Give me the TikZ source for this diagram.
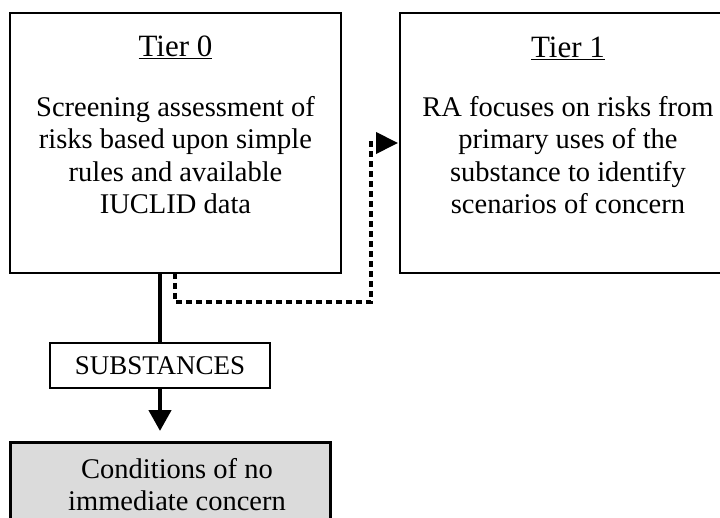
\documentclass[tikz,border=0pt]{standalone}
\usepackage{fontspec}
\setmainfont{Liberation Serif}
\usetikzlibrary{arrows.meta,calc}
\tikzset{
  tierbox/.style={draw, line width=2pt, minimum width=331pt, minimum height=260pt,
    inner sep=0pt, outer sep=0pt, anchor=north west},
  bodytext/.style={align=center, inner sep=0pt, font=\fontsize{28.5}{32.5}\selectfont},
  titletext/.style={inner sep=0pt, anchor=base, font=\fontsize{31}{36}\selectfont},
  labelbox/.style={draw, line width=1.3pt, minimum width=220pt, minimum height=45pt,
    inner sep=0pt, outer sep=0pt, font=\fontsize{27}{30}\selectfont},
  outbox/.style={draw, line width=3pt, fill=black!14, minimum width=320pt,
    minimum height=110pt, inner sep=0pt, outer sep=0pt, anchor=north west},
  trunk/.style={line width=4.5pt},
  mainflow/.style={line width=4.5pt, -{Triangle[length=21pt,width=22pt]}},
  sideflow/.style={line width=4pt, dash pattern=on 6pt off 4pt,
    -{Triangle[length=22pt,width=21pt]}},
}
\begin{document}
\begin{tikzpicture}[x=1pt,y=1pt]
\useasboundingbox (0,0) rectangle (720,-518);

% tier boxes
\node[tierbox] (t0) at (10,-13) {};
\node[tierbox, minimum width=336pt] (t1) at (400,-13) {};

\node[titletext] (t0title) at (175.5,-57) {\underline{Tier 0}};
\node[bodytext, anchor=north] (t0body) at (175.5,-96)
  {Screening assessment of\\risks based upon simple\\rules and available\\IUCLID data};

\node[titletext] (t1title) at (568,-58) {\underline{Tier 1}};
\node[bodytext, anchor=north] (t1body) at (568,-96)
  {RA focuses on risks from\\primary uses of the\\substance to identify\\scenarios of concern};

% outcome branch
\node[labelbox] (subst) at (160,-365.5) {SUBSTANCES};
\node[outbox] (nc) at (10,-442) {};
\node[bodytext, anchor=north] (nctext) at (177,-458) {Conditions of no\\immediate concern};

% connectors
\coordinate (s0) at ($(t0.south west)+(150,0)$);
\coordinate (d0) at ($(t0.south west)+(165,0)$);
\coordinate (dturn) at (371,-302);

\draw[trunk] (s0) -- (subst.north);
\draw[mainflow, shorten >=11pt] (subst.south) -- (subst.south |- nc.north);
\draw[sideflow, shorten >=2pt] (d0) |- (dturn) |- (t1.west);
\end{tikzpicture}
\end{document}
